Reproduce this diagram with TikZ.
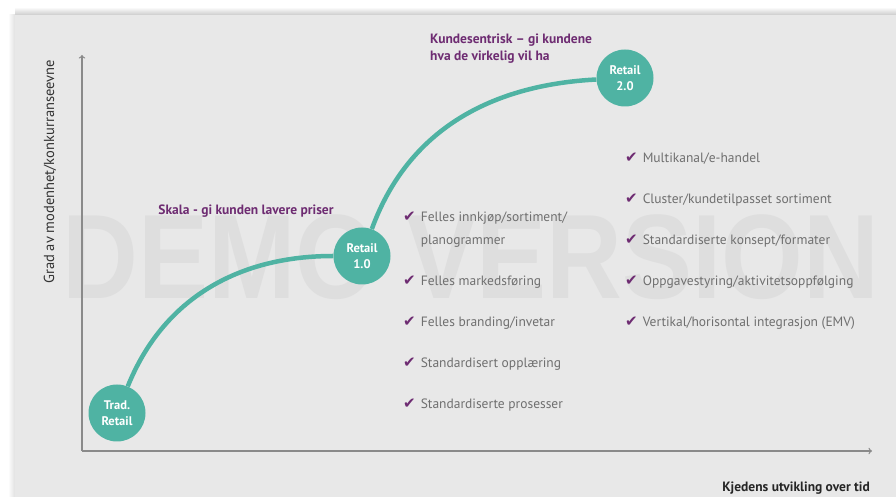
\documentclass[tikz,border=0pt]{standalone}
\usepackage{fontspec}
\usepackage{xcolor}
\usepackage{tikz}
\usetikzlibrary{positioning}
\setmainfont{PT Sans}
\newfontfamily\symbfont{DejaVu Sans}
\newfontfamily\markfont{Liberation Sans}

\definecolor{stageteal}{HTML}{4FB3A3}
\definecolor{notepurple}{HTML}{6E2C72}
\definecolor{itemgray}{HTML}{6F6F6F}
\definecolor{panelgray}{HTML}{E8E8E8}
\definecolor{axisgray}{HTML}{8A8A8A}
\definecolor{demogray}{HTML}{DEDEDE}

\newcommand{\chk}{{\color{notepurple}\fontsize{15}{15}\symbfont ✔}\hspace{5pt}}

\begin{document}
\begin{tikzpicture}[x=1pt, y=1pt,
    stage/.style={circle, fill=stageteal, minimum size=57pt, inner sep=0pt, text=white,
        align=center, font=\bfseries\fontsize{12.5}{16}\selectfont},
    curve/.style={stageteal, line width=4.5pt},
    axis/.style={axisgray, line width=1.3pt},
    item/.style={anchor=west, inner sep=0pt, text height=10pt, text depth=3pt,
        text=itemgray, font=\fontsize{13.5}{15}\selectfont},
    note/.style={inner sep=0pt, text=notepurple, font=\bfseries\fontsize{13.5}{17}\selectfont}]
    \useasboundingbox (0,0) rectangle (896,497);

    % Background
    \fill [white] (0,0) rectangle (896,497);
    \shade [top color=white, bottom color=black!20] (15,482) rectangle (896,490);
    \shade [left color=white, right color=black!12] (8,0) rectangle (15,482);
    \fill [panelgray] (15,0) rectangle (896,482);
    \node (demo) [inner sep=0pt, text=demogray, xscale=0.875,
        font=\markfont\bfseries\fontsize{120}{120}\selectfont] at (471,240) {DEMO VERSION};

    % Axes
    \coordinate (origin) at (82,46);
    \coordinate (ytop) at (82,442);
    \coordinate (xend) at (872,46);
    \draw [axis, ->] (origin) -- (ytop);
    \draw [axis, ->] (origin) -- (xend);
    \node (ylab) [rotate=90, text=black!80, font=\fontsize{14.5}{16}\selectfont] at (50,325) {Grad av modenhet/konkurranseevne};
    \node (xlab) [anchor=east, inner sep=0pt, text=black!85, font=\bfseries\fontsize{13.5}{15}\selectfont] at (870,9) {Kjedens utvikling over tid};

    % Stages
    \node (trad) [stage] at (117,84) {Trad.\\Retail};
    \node (retailA) [stage] at (362,241) {Retail\\1.0};
    \node (retailB) [stage] at (625,419) {Retail\\2.0};
    \draw [curve] (trad) to [out=68, in=180] (retailA);
    \draw [curve] (retailA) to [out=70, in=183] (retailB);

    % Notes
    \node (skala) [note] at (246,286) {Skala - gi kunden lavere priser};
    \node (kunde) [note, anchor=west, align=left] at (430,448) {Kundesentrisk – gi kundene\\hva de virkelig vil ha};

    % Retail 1.0 list
    \node (felA) [item] at (403,279) {\chk Felles innkjøp/sortiment/};
    \node (felB) [item] at (403,256) {\phantom{\chk}planogrammer};
    \node (felC) [item] at (403,215) {\chk Felles markedsføring};
    \node (felD) [item] at (403,174) {\chk Felles branding/invetar};
    \node (felE) [item] at (403,133) {\chk Standardisert opplæring};
    \node (felF) [item] at (403,92) {\chk Standardiserte prosesser};

    % Retail 2.0 list
    \node (kanA) [item] at (625,338) {\chk Multikanal/e-handel};
    \node (kanB) [item] at (625,297) {\chk Cluster/kundetilpasset sortiment};
    \node (kanC) [item] at (625,256) {\chk Standardiserte konsept/formater};
    \node (kanD) [item] at (625,215) {\chk Oppgavestyring/aktivitetsoppfølging};
    \node (kanE) [item] at (625,174) {\chk Vertikal/horisontal integrasjon (EMV)};
\end{tikzpicture}
\end{document}
